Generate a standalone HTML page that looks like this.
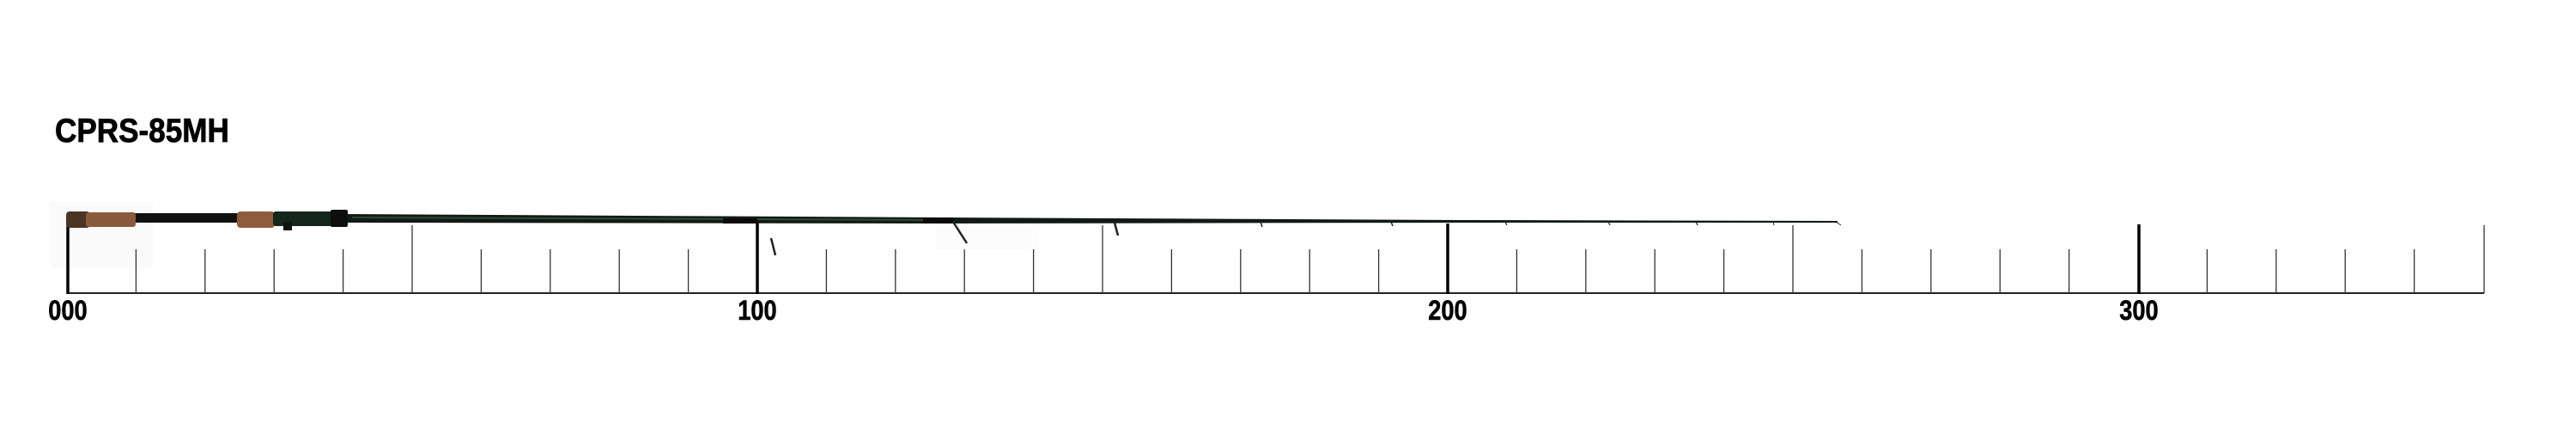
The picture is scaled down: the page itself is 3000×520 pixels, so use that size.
<!DOCTYPE html>
<html><head><meta charset="utf-8"><style>
html,body{margin:0;padding:0;background:#fff;}
svg{display:block;}
</style></head><body>
<svg width="3000" height="520" viewBox="0 0 3000 520" xmlns="http://www.w3.org/2000/svg">
<rect width="3000" height="520" fill="#fff"/>
<rect x="58" y="234" width="120" height="78" fill="#fafafa"/>
<rect x="1090" y="250" width="120" height="40" fill="#fcfcfc"/>
<!-- title -->
<text x="64" y="165" font-family="Liberation Sans, sans-serif" font-weight="bold" font-size="39" transform="translate(64 0) scale(0.9 1) translate(-64 0)" fill="#000" stroke="#000" stroke-width="0.8">CPRS-85MH</text>
<!-- ruler baseline -->
<line x1="78" y1="341" x2="2893" y2="341" stroke="#222" stroke-width="2"/>
<g stroke="#333" stroke-width="1.3">
<line x1="158.4" y1="290" x2="158.4" y2="341"/><line x1="238.8" y1="290" x2="238.8" y2="341"/>
<line x1="319.2" y1="290" x2="319.2" y2="341"/><line x1="399.6" y1="290" x2="399.6" y2="341"/>
<line x1="480" y1="262" x2="480" y2="341"/>
<line x1="560.4" y1="290" x2="560.4" y2="341"/><line x1="640.8" y1="290" x2="640.8" y2="341"/>
<line x1="721.2" y1="290" x2="721.2" y2="341"/><line x1="801.6" y1="290" x2="801.6" y2="341"/>
<line x1="962.4" y1="290" x2="962.4" y2="341"/><line x1="1042.8" y1="290" x2="1042.8" y2="341"/>
<line x1="1123.2" y1="290" x2="1123.2" y2="341"/><line x1="1203.6" y1="290" x2="1203.6" y2="341"/>
<line x1="1284" y1="262" x2="1284" y2="341"/>
<line x1="1364.4" y1="290" x2="1364.4" y2="341"/><line x1="1444.8" y1="290" x2="1444.8" y2="341"/>
<line x1="1525.2" y1="290" x2="1525.2" y2="341"/><line x1="1605.6" y1="290" x2="1605.6" y2="341"/>
<line x1="1766.4" y1="290" x2="1766.4" y2="341"/><line x1="1846.8" y1="290" x2="1846.8" y2="341"/>
<line x1="1927.2" y1="290" x2="1927.2" y2="341"/><line x1="2007.6" y1="290" x2="2007.6" y2="341"/>
<line x1="2088" y1="262" x2="2088" y2="341"/>
<line x1="2168.4" y1="290" x2="2168.4" y2="341"/><line x1="2248.8" y1="290" x2="2248.8" y2="341"/>
<line x1="2329.2" y1="290" x2="2329.2" y2="341"/><line x1="2409.6" y1="290" x2="2409.6" y2="341"/>
<line x1="2570.4" y1="290" x2="2570.4" y2="341"/><line x1="2650.8" y1="290" x2="2650.8" y2="341"/>
<line x1="2731.2" y1="290" x2="2731.2" y2="341"/><line x1="2811.6" y1="290" x2="2811.6" y2="341"/>
<line x1="2893" y1="262" x2="2893" y2="341"/>
</g>
<g stroke="#000" stroke-width="3.5">
<line x1="79" y1="262" x2="79" y2="342"/>
<line x1="882" y1="258" x2="882" y2="342"/>
<line x1="1686" y1="260" x2="1686" y2="342"/>
<line x1="2491" y1="261" x2="2491" y2="342"/>
</g>
<g font-family="Liberation Sans, sans-serif" font-weight="bold" font-size="32" fill="#000" stroke="#000" stroke-width="0.6" text-anchor="middle">
<text x="79" y="372" transform="translate(79 0) scale(0.85 1) translate(-79 0)">000</text>
<text x="882" y="372" transform="translate(882 0) scale(0.85 1) translate(-882 0)">100</text>
<text x="1686" y="372" transform="translate(1686 0) scale(0.85 1) translate(-1686 0)">200</text>
<text x="2491" y="372" transform="translate(2491 0) scale(0.85 1) translate(-2491 0)">300</text>
</g>
<!-- rod blank -->
<polygon points="400,249 1100,253 1700,256 2140,257 2140,259 1700,259 1100,260 400,259" fill="#121a15"/>
<line x1="410" y1="253" x2="1100" y2="256" stroke="#2c4a38" stroke-width="2"/>
<!-- butt section -->
<rect x="150" y="248" width="130" height="11" fill="#111"/>
<rect x="77" y="246" width="28" height="19" rx="4" fill="#4a3424"/>
<rect x="100" y="247" width="58" height="17" rx="3" fill="#8a5a3c"/>
<rect x="276" y="246" width="44" height="19" rx="4" fill="#8e5c3d"/>
<rect x="318" y="246" width="70" height="17" rx="3" fill="#15261c"/>
<rect x="330" y="258" width="10" height="10" fill="#111"/>
<rect x="385" y="244" width="20" height="20" rx="2" fill="#0e0e0e"/>
<rect x="842" y="254" width="40" height="6" fill="#0b0b0b"/>
<rect x="1075" y="253" width="35" height="7" fill="#0b0b0b"/>
<!-- guides -->
<g stroke="#222" stroke-width="2.5" fill="none">
<line x1="898" y1="277" x2="903" y2="297"/>
<line x1="1110" y1="258" x2="1126" y2="283"/>
<line x1="1298" y1="259" x2="1302" y2="274"/>
<line x1="1468" y1="258" x2="1470" y2="264" stroke-width="1.5"/>
<line x1="1620" y1="258" x2="1622" y2="263" stroke-width="1.5"/>
<line x1="1753" y1="258" x2="1755" y2="262" stroke-width="1.2"/>
<line x1="1873" y1="258" x2="1875" y2="262" stroke-width="1.2"/>
<line x1="1975" y1="258" x2="1977" y2="262" stroke-width="1.2"/>
<line x1="2065" y1="258" x2="2066" y2="262" stroke-width="1"/>
<line x1="2138" y1="258" x2="2144" y2="262" stroke-width="1"/>
</g>
</svg>
</body></html>
